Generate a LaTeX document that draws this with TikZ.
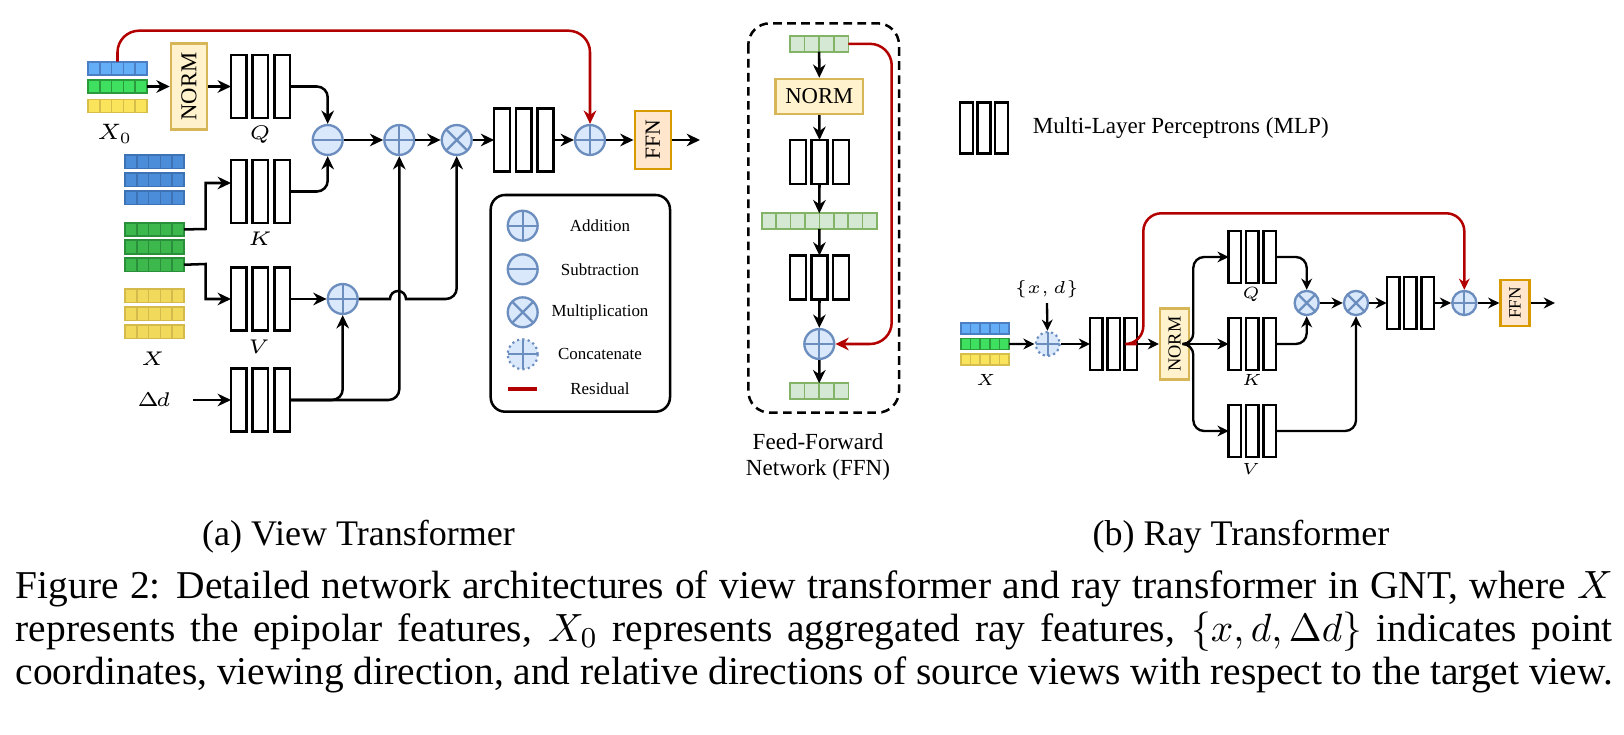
\documentclass[tikz,border=0pt]{standalone}
\usepackage{fix-cm}
\usepackage{fontspec}
\setmainfont{Liberation Serif}
\usepackage{graphicx}
\usetikzlibrary{arrows.meta}

\definecolor{opfill}{HTML}{DAE8FC}
\definecolor{opline}{HTML}{6C8EBF}
\definecolor{normfill}{HTML}{FFF2CC}
\definecolor{normline}{HTML}{D6B656}
\definecolor{ffnfill}{HTML}{FFE6CC}
\definecolor{ffnline}{HTML}{D79B00}
\definecolor{resred}{HTML}{B20000}
\definecolor{grnfill}{HTML}{D5E8D4}
\definecolor{grnline}{HTML}{82B366}
\definecolor{bluelt}{HTML}{63AEF7}
\definecolor{bluelte}{HTML}{4B7FC3}
\definecolor{greenlt}{HTML}{3FE05F}
\definecolor{greenlte}{HTML}{2A9A3C}
\definecolor{yellowlt}{HTML}{F9E45B}
\definecolor{yellowlte}{HTML}{D6BE4A}
\definecolor{bluedk}{HTML}{4B8DD8}
\definecolor{bluedke}{HTML}{3D72B5}
\definecolor{greendk}{HTML}{3CB84D}
\definecolor{greendke}{HTML}{2A8F3A}
\definecolor{yellowdk}{HTML}{F0D95B}
\definecolor{yellowdke}{HTML}{D3BA4B}

% name, left x, top y, cells, cell width, height, fill, border
\newcommand{\featbar}[8]{%
  \foreach \i in {1,...,#4}
    \draw[draw=#8,fill=#7,line width=0.45pt] ({#2+(\i-1)*#5},#3) rectangle ++(#5,#6);
  \node[hold,anchor=north west,minimum width={#4*#5*0.2777pt},minimum height={#6*0.2777pt}] (#1) at (#2,#3) {};
}
% name, centre x, centre y, bar width, bar height, pitch
\newcommand{\mlpblock}[6]{%
  \foreach \k in {-1,0,1}
    \draw[mlp] ({#2+\k*#6-#4/2},{#3-#5/2}) rectangle ++(#4,#5);
  \node[hold,minimum width={(2*#6+#4)*0.2777pt},minimum height={#5*0.2777pt}] (#1) at (#2,#3) {};
}

\begin{document}
\begin{tikzpicture}[x=0.2777pt,y=-0.2777pt,>={Stealth[length=3.7pt,width=3.5pt,inset=1.2pt]},line width=0.7pt,
	hold/.style={inner sep=0,outer sep=0},
	mlp/.style={draw=black,fill=white,line width=0.7pt},
	op/.style={circle,draw=opline,fill=opfill,line width=0.65pt,minimum size=8.3pt,inner sep=0},
	rsz/.style={minimum size=6.7pt},
	opadd/.style={op,path picture={\draw[opline,line width=0.65pt] (path picture bounding box.north)--(path picture bounding box.south) (path picture bounding box.west)--(path picture bounding box.east);}},
	opsub/.style={op,path picture={\draw[opline,line width=0.65pt] (path picture bounding box.west)--(path picture bounding box.east);}},
	opmul/.style={op,path picture={\draw[opline,line width=0.65pt] (path picture bounding box.north west)--(path picture bounding box.south east) (path picture bounding box.north east)--(path picture bounding box.south west);}},
	opcat/.style={op,draw=none,path picture={\draw[opline,line width=0.65pt] (path picture bounding box.north)--(path picture bounding box.south) (path picture bounding box.west)--(path picture bounding box.east);}},
	normbox/.style={draw=normline,fill=normfill,line width=0.7pt,inner sep=0,font=\fontsize{6.3}{7}\selectfont},
	ffnbox/.style={draw=ffnline,fill=ffnfill,line width=0.7pt,inner sep=0,font=\fontsize{6}{7}\selectfont},
	resline/.style={draw=resred,line width=0.7pt},
	mlbl/.style={inner sep=0,font=\fontsize{5.5}{6.5}\selectfont},
	rlbl/.style={inner sep=0,font=\fontsize{4.5}{5.5}\selectfont},
	legtxt/.style={inner sep=0,font=\fontsize{4.7}{5.5}\selectfont},
	txt/.style={inner sep=0,font=\fontsize{6.4}{7.3}\selectfont}]
	\useasboundingbox (0,0) rectangle (1624,735);

	% (a) view transformer
	\featbar{x0b}{88}{61.7}{5}{11.8}{13}{bluelt}{bluelte}
	\featbar{x0g}{88}{80}{5}{11.8}{13}{greenlt}{greenlte}
	\featbar{x0y}{88}{99.5}{5}{11.8}{13}{yellowlt}{yellowlte}
	\foreach \t/\n in {155/xb1,173/xb2,191/xb3}{\featbar{\n}{125}{\t}{5}{11.8}{13.5}{bluedk}{bluedke}}
	\foreach \t/\n in {222.7/xg1,240.3/xg2,258/xg3}{\featbar{\n}{125}{\t}{5}{11.8}{13.5}{greendk}{greendke}}
	\foreach \t/\n in {289/xy1,307/xy2,325/xy3}{\featbar{\n}{125}{\t}{5}{11.8}{13.5}{yellowdk}{yellowdke}}
	\node[mlbl,font=\fontsize{6.2}{7}\selectfont] (lbxo) at (115,134) {$X_0$};
	\node[mlbl] (lbx) at (153,359) {$X$};
	\node[mlbl] (lbd) at (154,400) {$\Delta\mkern-2mu d$};
	\node[normbox,minimum width=10pt,minimum height=23.9pt] (norm) at (189,86.5) {\rotatebox{90}{NORM}};
	\mlpblock{q}{260.4}{86.5}{15.5}{63}{21.7}
	\mlpblock{k}{260.4}{191.5}{15.5}{63}{21.7}
	\mlpblock{v}{260.4}{299}{15.5}{63}{21.7}
	\mlpblock{dd}{260.4}{400}{15.5}{63}{21.7}
	\node[mlbl] (lbq) at (260,135) {$Q$};
	\node[mlbl] (lbk) at (260,239) {$K$};
	\node[mlbl] (lbv) at (259,347) {$V$};
	\node[opsub] (sub) at (327.7,140) {};
	\node[opadd] (add) at (399.3,140) {};
	\node[opmul] (mul) at (456.7,140) {};
	\node[opadd] (vadd) at (342.7,299) {};
	\mlpblock{att}{523.7}{140}{15.7}{63}{21.7}
	\node[opadd] (res) at (590,140) {};
	\node[ffnbox,minimum width=10pt,minimum height=16.1pt] (ffn) at (652.8,140) {\rotatebox{90}{FFN}};
	\coordinate (out) at (700,140);
	\coordinate (kin) at (205.7,183);
	\coordinate (din) at (193,400);

	\draw[->] (x0g.east) -- (norm.west);
	\draw[->] (norm.east) -- (q.west);
	\draw[->] (xg1.east) -- (205.7,229) -- (kin) -- (kin -| k.west);
	\draw[->] (xg3.east) -- (205.7,264) -- (205.7,299) -- (v.west);
	\draw[->] (din) -- (dd.west);
	\draw[->,rounded corners=3pt] (q.east) -| (sub.north);
	\draw[->,rounded corners=3pt] (k.east) -| (sub.south);
	\draw[->] (v.east) -- (vadd.west);
	\draw[->,rounded corners=3pt] (dd.east) -| (vadd.south);
	\draw[->,rounded corners=3pt] (dd.east) -| (add.south);
	\draw[->] (vadd.east) -- (390,299) arc[start angle=180,end angle=360,radius=8] [rounded corners=3pt] -- (456.7,299) -- (mul.south);
	\draw[->] (sub) -- (add);
	\draw[->] (add) -- (mul);
	\draw[->] (mul) -- (att);
	\draw[->] (att) -- (res);
	\draw[->] (res) -- (ffn);
	\draw[->] (ffn) -- (out);
	\draw[resline,->,rounded corners=6pt] (x0b.north) -- ++(0,-31) -| (res.north);

	% legend
	\draw[rounded corners=4pt] (490.7,195) rectangle (670,411.7);
	\node[opadd] (lgadd) at (522.7,225.7) {};
	\node[opsub] (lgsub) at (522.7,269.3) {};
	\node[opmul] (lgmul) at (522.7,312.3) {};
	\node[opcat] (lgcat) at (522.7,354.3) {};
	\draw[opline,line width=0.6pt,dash pattern=on 0.6pt off 0.9pt] (lgcat) circle[radius=15];
	\draw[resline,line width=0.9pt] (508,389) -- (537,389);
	\node[legtxt] (lgt1) at (600,225.7) {Addition};
	\node[legtxt] (lgt2) at (600,269.3) {Subtraction};
	\node[legtxt] (lgt3) at (600,312.3) {Multiplication};
	\node[legtxt] (lgt4) at (600,354.3) {Concatenate};
	\node[legtxt] (lgt5) at (600,388.3) {Residual};

	% feed-forward network
	\draw[line width=0.7pt,dash pattern=on 2.4pt off 1.5pt,rounded corners=6pt] (748.3,23.3) rectangle (899,412.7);
	\featbar{fin}{790}{36}{4}{14.6}{15.7}{grnfill}{grnline}
	\node[normbox,minimum width=24.2pt,minimum height=9.7pt] (fnorm) at (819.3,96.5) {NORM};
	\mlpblock{fm1}{819.5}{162}{16}{44}{21.3}
	\featbar{fmid}{761.7}{213.3}{8}{14.4}{15.7}{grnfill}{grnline}
	\mlpblock{fm2}{819.5}{277.5}{16}{44}{21.3}
	\node[opadd] (fadd) at (819.3,344) {};
	\featbar{fout}{790}{383.3}{4}{14.6}{15.7}{grnfill}{grnline}
	\draw[->] (fin.south) -- (fnorm.north);
	\draw[->] (fnorm.south) -- (fm1.north);
	\draw[->] (fm1.south) -- (fmid.north);
	\draw[->] (fmid.south) -- (fm2.north);
	\draw[->] (fm2.south) -- (fadd.north);
	\draw[->] (fadd.south) -- (fout.north);
	\draw[resline,->,rounded corners=6pt] (fin.east) -| (891.7,344) -- (fadd.east);
	\node[txt,align=center] (ffnlbl) at (818,457) {Feed-Forward\\Network (FFN)};

	% MLP key
	\mlpblock{keymlp}{984}{128}{12.7}{50.6}{17.5}
	\node[txt,anchor=west] (keytxt) at (1031.7,128.3) {Multi-Layer Perceptrons (MLP)};

	% (b) ray transformer
	\begin{scope}[>={Stealth[length=3.1pt,width=3pt,inset=1pt]},line width=0.65pt]
	\featbar{rxb}{961}{323}{5}{9.6}{11}{bluelt}{bluelte}
	\featbar{rxg}{961}{338.5}{5}{9.6}{11}{greenlt}{greenlte}
	\featbar{rxy}{961}{354}{5}{9.6}{11}{yellowlt}{yellowlte}
	\node[rlbl] (lbrx) at (986,380) {$X$};
	\node[opcat,rsz] (cat) at (1047.7,344) {};
	\draw[opline,line width=0.6pt,dash pattern=on 0.6pt off 0.9pt] (cat) circle[radius=12];
	\node[rlbl,font=\fontsize{4.8}{5.5}\selectfont,inner sep=1.2pt] (xd) at (1046.7,289) {$\{x,d\}$};
	\mlpblock{r1}{1113.5}{344}{12.5}{51.7}{17.3}
	\node[normbox,font=\fontsize{5.1}{6}\selectfont,minimum width=8.05pt,minimum height=19.7pt] (rnorm) at (1174.7,344) {\rotatebox{90}{NORM}};
	\mlpblock{rq}{1252.2}{257}{12.5}{51.7}{17.3}
	\mlpblock{rk}{1252.2}{344}{12.5}{51.7}{17.3}
	\mlpblock{rv}{1252.2}{431}{12.5}{51.7}{17.3}
	\node[rlbl] (lbrq) at (1251,295) {$Q$};
	\node[rlbl] (lbrk) at (1252,380) {$K$};
	\node[rlbl] (lbrv) at (1251,469) {$V$};
	\node[opmul,rsz] (rm1) at (1306.7,303) {};
	\node[opmul,rsz] (rm2) at (1356,303) {};
	\mlpblock{r2}{1410.3}{303}{12.5}{51.7}{17.3}
	\node[opadd,rsz] (radd) at (1464.3,303) {};
	\node[ffnbox,font=\fontsize{4.8}{5.5}\selectfont,minimum width=8pt,minimum height=12.9pt] (rffn) at (1515,303) {\rotatebox{90}{FFN}};
	\coordinate (rout) at (1555,303);

	\draw[->] (rxg.east) -- (cat.west);
	\draw[->] (xd) -- (cat);
	\draw[->] (cat) -- (r1);
	\draw[->] (r1) -- (rnorm);
	\draw[->,rounded corners=3pt] (rnorm.east) -- (1193.3,344) |- (rq.west);
	\draw[->] (rnorm.east) -- (rk.west);
	\draw[->,rounded corners=3pt] (rnorm.east) -- (1193.3,344) |- (rv.west);
	\draw[->,rounded corners=3pt] (rq.east) -| (rm1.north);
	\draw[->,rounded corners=3pt] (rk.east) -| (rm1.south);
	\draw[->,rounded corners=3pt] (rv.east) -| (rm2.south);
	\draw[->] (rm1) -- (rm2);
	\draw[->] (rm2) -- (r2);
	\draw[->] (r2) -- (radd);
	\draw[->] (radd) -- (rffn);
	\draw[->] (rffn) -- (rout);
	\draw[resline,->,rounded corners=5pt] (r1.east) -- (1143.3,344) -- (1143.3,213.3) -| (radd.north);
	\end{scope}

	% captions
	\node[inner sep=0,font=\fontsize{10}{12}\selectfont] (capa) at (358.5,536.5) {(a) View Transformer};
	\node[inner sep=0,font=\fontsize{10}{12}\selectfont] (capb) at (1241,536.5) {(b) Ray Transformer};
	\node[anchor=north west,inner sep=0,text width=443.5pt,align=justify,font=\fontsize{10.95}{12}\selectfont] (cap) at (14.5,569) {\hyphenpenalty=10000\parfillskip=0pt Figure 2: Detailed network architectures of view transformer and ray transformer in GNT, where $X$\linebreak represents the epipolar features, $X_0$ represents aggregated ray features, $\{x, d, \Delta d\}$ indicates point\linebreak coordinates, viewing direction, and relative directions of source views with respect to the target view.};
\end{tikzpicture}
\end{document}
